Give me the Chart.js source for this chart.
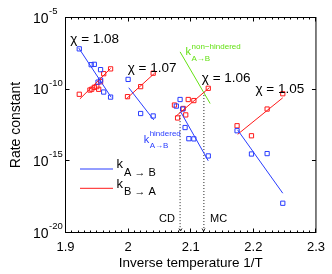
<!DOCTYPE html>
<html>
<head>
<meta charset="utf-8">
<script src="https://cdn.jsdelivr.net/npm/chart.js@4.4.1/dist/chart.umd.min.js"></script>
<style>
html,body{margin:0;padding:0;background:#fff;}
canvas{display:block;}
</style>
</head>
<body>
<canvas id="chart" width="332" height="274" style="width:332px;height:274px"></canvas>
<script>
// measured rate constants (squares), grouped by temperature window
const blueX=[1.922,1.941,1.946,1.956,1.952,1.956,1.961,1.972, 2.000,2.020,2.040, 2.083,2.077,2.087,2.091,2.097,2.105,2.128, 2.174,2.197,2.222,2.247];
const blueK=[6.5e-8,5.1e-9,5.4e-9,2.3e-9,3.1e-10,4.3e-10,6.3e-11,2.8e-11, 4.8e-10,2.0e-12,1.35e-12, 1.9e-11,6.6e-12,4.1e-12,2.1e-13,3.5e-14,3.4e-14,2.2e-15, 1.26e-13,3.0e-15,3.2e-15,1.1e-18];
const redX=[1.922,1.939,1.942,1.946,1.950,1.953,1.956,1.961,1.972, 1.999,2.020,2.040, 2.128,2.096,2.105,2.074,2.088,2.092,2.079, 2.247,2.222,2.174,2.197];
const redK=[4.4e-11,8.7e-11,1.0e-10,1.35e-10,1.5e-10,9.8e-11,3.3e-10,1.2e-9,2.6e-9, 3.0e-11,1.5e-10,1.3e-9, 1.15e-10,1.9e-11,1.6e-11,7.8e-12,4.5e-12,1.6e-12,9.8e-13, 4.8e-11,4.1e-12,2.8e-13,5.6e-14];

// Arrhenius fits, one segment per window
const blueFitX=[[1.921,1.973],[2.001,2.041],[2.084,2.128],[2.175,2.247]];
const blueFitK=[[7.6e-8,2.7e-11],[1.26e-10,7.1e-13],[2.6e-12,1.0e-15],[1.4e-13,5.5e-18]];
const redFitX=[[1.923,1.972],[1.997,2.042],[2.075,2.130],[2.175,2.247]];
const redFitK=[[2.1e-11,2.8e-9],[2.1e-11,1.26e-9],[1.15e-12,1.3e-10],[7.1e-14,2.5e-11]];
const greenFitX=[2.083,2.131];
const greenFitK=[4.0e-8,1.0e-11];

// chi labels for each window
const chiLabels=["χ = 1.08","χ = 1.07","χ = 1.06","χ = 1.05"];
const chiX=[1.9467,2.0383,2.1566,2.2423];
const chiK=[3.6e-7,3.7e-9,7.2e-10,1.2e-10];

// vertical markers
const markerNames=["CD","MC"];
const markerX=[2.083,2.121];
const markerTopK=[2.5e-12,6.3e-11];

const xTicks=[1.9,2.0,2.1,2.2,2.3];
const yTicks=[1e-20,1e-15,1e-10,1e-5];
const yTickExp=["-20","-15","-10","-5"];

const BLUE="rgb(40,60,255)", RED="rgb(255,25,25)", GREEN="rgb(100,225,20)";
const FONT="'Liberation Sans', Arial, sans-serif";

const datasets=[];
blueFitX.forEach((xs,i)=>datasets.push({data:xs.map((v,j)=>({x:v,y:blueFitK[i][j]})),showLine:true,borderColor:BLUE,borderWidth:1,pointRadius:0}));
redFitX.forEach((xs,i)=>datasets.push({data:xs.map((v,j)=>({x:v,y:redFitK[i][j]})),showLine:true,borderColor:RED,borderWidth:1,pointRadius:0}));
datasets.push({data:greenFitX.map((v,j)=>({x:v,y:greenFitK[j]})),showLine:true,borderColor:GREEN,borderWidth:1,pointRadius:0});
markerX.forEach((v,i)=>datasets.push({data:[{x:v,y:markerTopK[i]},{x:v,y:1e-20}],showLine:true,borderColor:"#222",borderWidth:1,borderDash:[1,2],pointRadius:0}));
datasets.push({data:blueX.map((v,i)=>({x:v,y:blueK[i]})),pointStyle:"rect",pointRadius:3,borderColor:BLUE,backgroundColor:"rgba(0,0,0,0)",borderWidth:1});
datasets.push({data:redX.map((v,i)=>({x:v,y:redK[i]})),pointStyle:"rect",pointRadius:3,borderColor:RED,backgroundColor:"rgba(0,0,0,0)",borderWidth:1});

// k with sub/superscript
function drawK(ctx,x,y,color,sup,sub,kSize,sSize){
  ctx.fillStyle=color;
  ctx.font=kSize+"px "+FONT;
  ctx.fillText("k",x,y);
  const w=ctx.measureText("k").width;
  ctx.font=sSize+"px "+FONT;
  if(sup) ctx.fillText(sup,x+w+0.5,y-6.3);
  if(sub) ctx.fillText(sub,x+w+0.5,y+5.5);
}

const decor={
  id:"decor",
  afterDatasetsDraw(chart){
    const {ctx,chartArea:a,scales:{x,y}}=chart;
    ctx.save();
    ctx.strokeStyle="#000"; ctx.lineWidth=1;
    ctx.strokeRect(a.left,a.top,a.right-a.left,a.bottom-a.top);
    ctx.beginPath();
    // x ticks, inward, bottom and top
    for(let i=0;i<=40;i++){
      const px=Math.floor(x.getPixelForValue(1.9+i*0.01))+0.5;
      const len=(i%10===0)?4:2;
      ctx.moveTo(px,a.bottom); ctx.lineTo(px,a.bottom-len);
      ctx.moveTo(px,a.top); ctx.lineTo(px,a.top+len);
    }
    yTicks.forEach(v=>{
      const py=Math.floor(y.getPixelForValue(v))+0.5;
      ctx.moveTo(a.left,py); ctx.lineTo(a.left+4,py);
      ctx.moveTo(a.right,py); ctx.lineTo(a.right-4,py);
    });
    ctx.stroke();
    // y tick labels 10^n
    ctx.fillStyle="#000"; ctx.textBaseline="alphabetic";
    yTicks.forEach((v,i)=>{
      const py=y.getPixelForValue(v);
      ctx.font="14px "+FONT; ctx.textAlign="right";
      ctx.fillText("10",48.5,py+5);
      ctx.font="9.5px "+FONT; ctx.textAlign="left";
      ctx.fillText(yTickExp[i],49,py-3.5);
    });
    // marker arrowheads and names
    ctx.strokeStyle="#222"; ctx.font="11px "+FONT;
    markerX.forEach((v,i)=>{
      const px=Math.floor(x.getPixelForValue(v))+0.5;
      ctx.beginPath(); ctx.moveTo(px-1.5,a.bottom-4); ctx.lineTo(px,a.bottom-1.5); ctx.lineTo(px+1.5,a.bottom-4); ctx.stroke();
      ctx.textAlign=i===0?"right":"left";
      ctx.fillStyle="#000";
      ctx.fillText(markerNames[i],i===0?px-5.5:px+6.5,a.bottom-10.5);
    });
    // chi labels
    ctx.font="13.5px "+FONT; ctx.textAlign="center"; ctx.fillStyle="#000";
    chiLabels.forEach((t,i)=>{
      ctx.fillText(t,x.getPixelForValue(chiX[i]),y.getPixelForValue(chiK[i])+5);
    });
    // annotations on the fit lines
    ctx.textAlign="left";
    drawK(ctx,x.getPixelForValue(2.0248),y.getPixelForValue(1.9e-14),BLUE,"hindered","A→B",11,8);
    drawK(ctx,x.getPixelForValue(2.0917),y.getPixelForValue(2.4e-8),GREEN,"non−hindered","A→B",11,8);
    // legend
    ctx.lineWidth=1;
    ctx.strokeStyle=BLUE; ctx.beginPath(); ctx.moveTo(80,169); ctx.lineTo(113,169); ctx.stroke();
    ctx.strokeStyle=RED; ctx.beginPath(); ctx.moveTo(80,188.3); ctx.lineTo(113,188.3); ctx.stroke();
    ctx.fillStyle="#000";
    ctx.font="13px "+FONT; ctx.fillText("k",116.5,168.3);
    ctx.font="11px "+FONT; ctx.fillText("A → B",124,175.5);
    ctx.font="13px "+FONT; ctx.fillText("k",116.5,187.7);
    ctx.font="11px "+FONT; ctx.fillText("B → A",124,194.5);
    ctx.restore();
  }
};

new Chart(document.getElementById("chart"),{
  type:"scatter",
  data:{datasets},
  plugins:[decor],
  options:{
    responsive:false,
    animation:false,
    devicePixelRatio:1,
    layout:{padding:{left:0,right:15.5,top:17.5,bottom:0}},
    plugins:{legend:{display:false},tooltip:{enabled:false}},
    scales:{
      x:{
        type:"linear",min:1.9,max:2.3,
        afterBuildTicks:s=>{s.ticks=xTicks.map(v=>({value:v}));},
        afterFit:s=>{s.height=41.5;},
        grid:{display:false,drawTicks:false},
        border:{display:false},
        ticks:{color:"#000",padding:7,font:{family:FONT,size:13},callback:v=>String(Math.round(v*10)/10)},
        title:{display:true,text:"Inverse temperature 1/T",color:"#000",font:{family:FONT,size:13.5},padding:{top:0,bottom:3}}
      },
      y:{
        type:"logarithmic",min:1e-20,max:1e-5,
        afterBuildTicks:s=>{s.ticks=yTicks.map(v=>({value:v}));},
        afterFit:s=>{s.width=65.5;},
        grid:{display:false,drawTicks:false},
        border:{display:false},
        ticks:{display:false},
        title:{display:true,text:"Rate constant",color:"#000",font:{family:FONT,size:14},padding:{top:8,bottom:0}}
      }
    }
  }
});
</script>
</body>
</html>
